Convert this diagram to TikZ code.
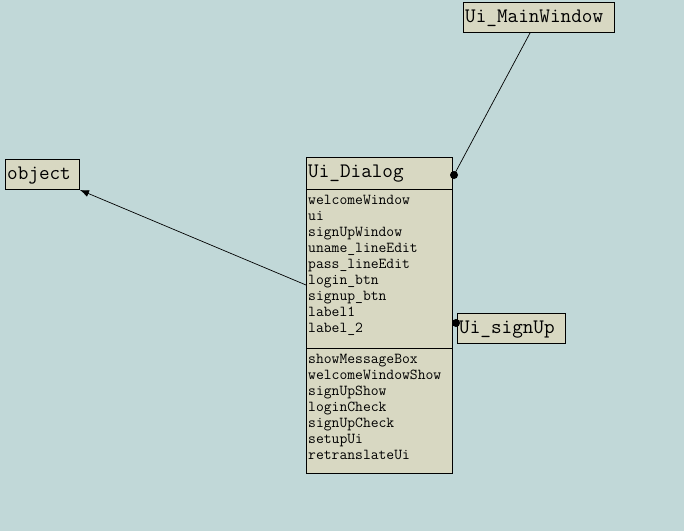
\documentclass[tikz,border=0pt]{standalone}
\usepackage{fontspec}
\usetikzlibrary{arrows.meta}
\definecolor{bg}{RGB}{193,216,216}
\definecolor{boxfill}{RGB}{216,216,194}
\begin{document}
\begin{tikzpicture}[x=1pt,y=-1pt,
  cls/.style={draw=black,fill=boxfill,line width=0.9pt,inner sep=0pt,anchor=north west},
  title/.style={font=\ttfamily\fontsize{20.6}{22}\selectfont,anchor=base west,inner sep=0pt},
  member/.style={font=\ttfamily\fontsize{15.2}{16}\selectfont,anchor=base west,inner sep=0pt},
  dot/.style={circle,fill=black,inner sep=0pt,minimum size=8pt},
  link/.style={draw=black,line width=0.7pt}]
\fill[bg] (0,0) rectangle (684,531);
\useasboundingbox (0,0) rectangle (684,531);
% boxes
\node[cls,minimum width=151pt,minimum height=30pt] (main) at (463,2) {};
\node[title] (maint) at (465,22) {Ui\_MainWindow};
\node[cls,minimum width=74pt,minimum height=30pt] (obj) at (5,159) {};
\node[title] (objt) at (7,179) {object};
\node[cls,minimum width=108pt,minimum height=30pt] (sign) at (457,313) {};
\node[title] (signt) at (459,333) {Ui\_signUp};
\node[cls,minimum width=146pt,minimum height=316pt] (dlg) at (306,157) {};
\node[title] (dlgt) at (308,177) {Ui\_Dialog};
\draw[line width=0.9pt] (306,189) -- (452,189);
\draw[line width=0.9pt] (306,348) -- (452,348);
\foreach \t [count=\i from 0] in {welcomeWindow,ui,signUpWindow,uname\_lineEdit,pass\_lineEdit,login\_btn,signup\_btn,label1,label\_2}
  \node[member] (a\i) at (308,204+16*\i) {\t};
\foreach \t [count=\i from 0] in {showMessageBox,welcomeWindowShow,signUpShow,loginCheck,signUpCheck,setupUi,retranslateUi}
  \node[member] (m\i) at (308,363+16*\i) {\t};
% connectors
\coordinate (mainEnd) at (530,33);
\coordinate (dlgTop) at (454,175);
\coordinate (dlgLeft) at (306,285);
\coordinate (objEnd) at (80,190);
\coordinate (dlgRight) at (456,323);
\coordinate (signLeft) at (457,323);
\draw[link] (mainEnd) -- (dlgTop);
\node[dot] (d1) at (dlgTop) {};
\draw[link,-{Latex[length=9pt,width=7pt]}] (dlgLeft) -- (objEnd);
\draw[link] (signLeft) -- (dlgRight);
\node[dot] (d2) at (dlgRight) {};
\end{tikzpicture}
\end{document}
